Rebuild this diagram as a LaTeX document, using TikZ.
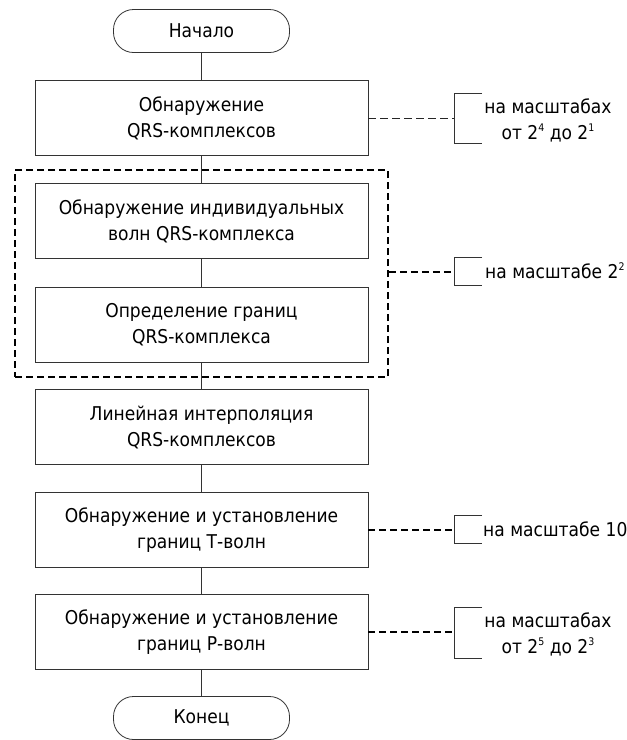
\documentclass[tikz,border=0pt]{standalone}
\usepackage{fontspec}
\setmainfont[FakeStretch=0.9]{DejaVu Sans}
\newcommand\mysup[1]{\raisebox{0.75ex}{\fontsize{10.5}{10.5}\selectfont #1}}
\begin{document}
\begin{tikzpicture}[x=1pt,y=-1pt,
  every node/.style={font=\fontsize{19}{26}\selectfont, text=black},
  proc/.style={draw=black!80, line width=0.8pt, minimum width=333pt, minimum height=75pt, align=center, inner sep=0pt},
  term/.style={draw=black!80, line width=0.8pt, rounded corners=20pt, minimum width=176pt, minimum height=43pt, inner sep=0pt},
  link/.style={draw=black!80, line width=0.8pt},
  grpbox/.style={draw=black, line width=1.8pt, dash pattern=on 7pt off 4pt},
  thindash/.style={draw=black!85, line width=1pt, dash pattern=on 8pt off 4pt},
  thickdash/.style={draw=black, line width=2pt, dash pattern=on 7pt off 4pt},
  brk/.style={draw=black!80, line width=0.8pt},
  note/.style={align=center, inner sep=0pt}
]
\useasboundingbox (0,0) rectangle (627,740);

% main flow
\node[term] (start) at (201.5,31) {Начало};
\node[proc] (b1) at (201.5,118) {Обнаружение\\QRS-комплексов};
\node[grpbox, minimum width=373pt, minimum height=207pt, inner sep=0pt] (grp) at (201.5,273.5) {};
\node[proc] (b2) at (201.5,221) {Обнаружение индивидуальных\\волн QRS-комплекса};
\node[proc] (b3) at (201.5,324.5) {Определение границ\\QRS-комплекса};
\node[proc] (b4) at (201.5,427) {Линейная интерполяция\\QRS-комплексов};
\node[proc] (b5) at (201.5,530) {Обнаружение и установление\\границ Т-волн};
\node[proc] (b6) at (201.5,632) {Обнаружение и установление\\границ Р-волн};
\node[term] (stop) at (201.5,718) {Конец};

\draw[link] (start) -- (b1);
\draw[link] (b1) -- (b2);
\draw[link] (b2) -- (b3);
\draw[link] (b3) -- (b4);
\draw[link] (b4) -- (b5);
\draw[link] (b5) -- (b6);
\draw[link] (b6) -- (stop);

% annotation 1
\coordinate (a1) at (454,118);
\draw[brk] (482,93) -- (454,93) -- (454,143) -- (482,143);
\draw[thindash] (b1.east) -- (a1);
\node[note] (t1) at (548,120.5) {на масштабах\\от 2\mysup{4} до 2\mysup{1}};

% annotation 2
\coordinate (a2) at (454,272);
\draw[brk] (482,257.5) -- (454,257.5) -- (454,285.5) -- (482,285.5);
\draw[thickdash] (grp.east |- a2) -- (a2);
\node[note, anchor=west] (t2) at (485,271) {на масштабе 2\mysup{2}};

% annotation 3
\coordinate (a3) at (454,530);
\draw[brk] (482,515.5) -- (454,515.5) -- (454,543.5) -- (482,543.5);
\draw[thickdash] (b5.east) -- (a3);
\node[note, anchor=west] (t3) at (483,529) {на масштабе 10};

% annotation 4
\coordinate (a4) at (454,632);
\draw[brk] (482,607) -- (454,607) -- (454,658) -- (482,658);
\draw[thickdash] (b6.east) -- (a4);
\node[note] (t4) at (548,634) {на масштабах\\от 2\mysup{5} до 2\mysup{3}};
\end{tikzpicture}
\end{document}
